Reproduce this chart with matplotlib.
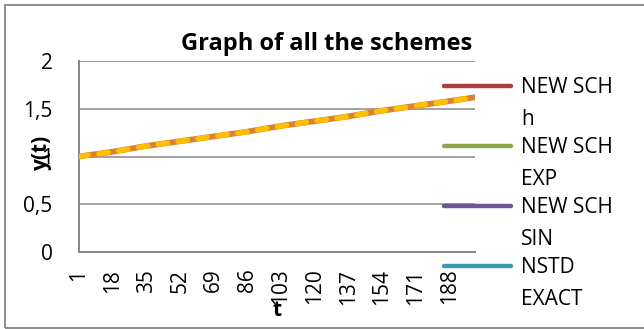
import matplotlib.pyplot as plt
from matplotlib.lines import Line2D
from matplotlib.patches import Rectangle
from matplotlib.ticker import FixedLocator, FuncFormatter

plt.rcParams['font.family'] = ['Open Sans', 'DejaVu Sans']

# t index (1..201) and y(t) sampled at the labelled steps
t_idx = [1, 18, 35, 52, 69, 86, 103, 120, 137, 154, 171, 188, 201]
y_vals = [1.00, 1.05, 1.11, 1.16, 1.21, 1.26, 1.32, 1.37, 1.42, 1.48, 1.53, 1.58, 1.62]

legend_labels = ["NEW SCH\nh", "NEW SCH\nEXP", "NEW SCH\nSIN", "NSTD\nEXACT"]
legend_colors = ["#A5403D", "#8BA64B", "#6F5594", "#3D98B0"]
x_ticks = list(range(1, 201, 17))
y_ticks = [0, 0.5, 1, 1.5, 2]

grid_col = "#878787"
fs = 15

fig = plt.figure(figsize=(6.44, 3.29), dpi=100)
ax = fig.add_axes([79 / 644, 1 - 252 / 329, 396 / 644, 191 / 329])

# the four schemes coincide, the last two series sit on top of them
for c in legend_colors:
    ax.plot(t_idx, y_vals, color=c, lw=3, solid_capstyle='round', zorder=3)
ax.plot(t_idx, y_vals, color="#D98236", lw=4.2, solid_capstyle='round', zorder=4)
ax.plot(t_idx, y_vals, color="#FFC000", lw=3.8, ls=(0, (1.8, 2.0)),
        dash_capstyle='round', zorder=5)

ax.set_xlim(1, 201)
ax.set_ylim(0, 2)
ax.xaxis.set_major_locator(FixedLocator(x_ticks))
ax.yaxis.set_major_locator(FixedLocator(y_ticks))
ax.yaxis.set_major_formatter(FuncFormatter(lambda v, p: f"{v:g}".replace('.', ',')))
ax.tick_params(axis='x', length=0, pad=12, labelsize=fs, rotation=90)
ax.tick_params(axis='y', length=0, pad=19, labelsize=fs)

ax.grid(axis='y', color=grid_col, lw=1.1)
ax.set_axisbelow(True)
for s in ['top', 'right']:
    ax.spines[s].set_visible(False)
for s in ['left', 'bottom']:
    ax.spines[s].set_color(grid_col)
    ax.spines[s].set_linewidth(1.4)

ax.set_xlabel("t", fontsize=fs, fontweight='bold')
ax.xaxis.set_label_coords(0.5, -0.25)
ax.set_ylabel("y(t)", fontsize=fs, fontweight='bold')
ax.yaxis.set_label_coords(-0.068, 0.52)

fig.text(327 / 644, 1 - 44 / 329, "Graph of all the schemes", fontsize=17,
         fontweight='bold', ha='center', va='center')

# legend on the right, handle level with the first text line
for i, (lab, col) in enumerate(zip(legend_labels, legend_colors)):
    yl = 86 + 60 * i
    fig.add_artist(Line2D([444 / 644, 511 / 644], [1 - yl / 329] * 2, color=col,
                          lw=3.2, solid_capstyle='round'))
    first, second = lab.split("\n")
    fig.text(521 / 644, 1 - (yl + 7) / 329, first, fontsize=fs, ha='left', va='baseline')
    fig.text(521 / 644, 1 - (yl + 39) / 329, second, fontsize=fs, ha='left', va='baseline')

fig.add_artist(Rectangle((4.5 / 644, 1 - 328 / 329), 1.0, 323 / 329,
                         fill=False, edgecolor="#8C8C8C", lw=1.4,
                         transform=fig.transFigure))

fig.savefig("out.png", dpi=100)
